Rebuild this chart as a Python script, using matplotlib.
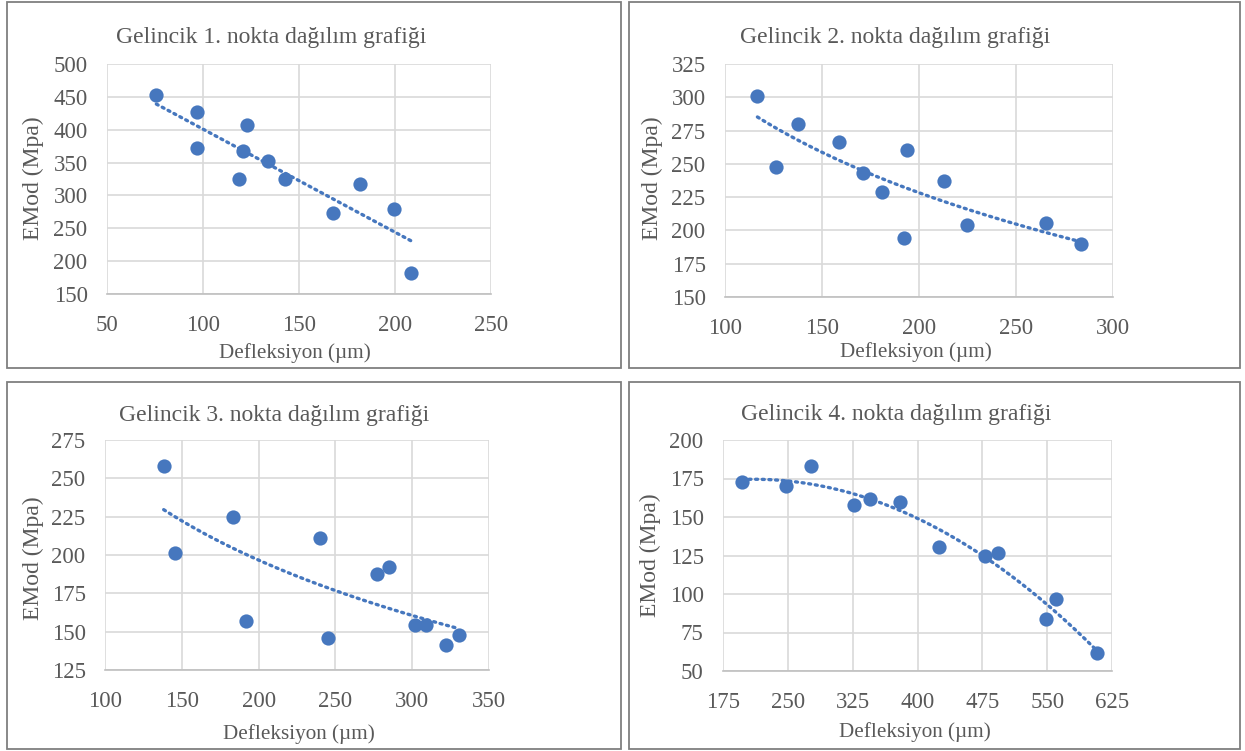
import numpy as np
import matplotlib
matplotlib.use('Agg')
from matplotlib import pyplot as plt
from matplotlib.patches import Rectangle

plt.rcParams['font.family'] = ['Liberation Serif', 'DejaVu Serif']

# data
titles = ['Gelincik 1. nokta dağılım grafiği', 'Gelincik 2. nokta dağılım grafiği',
          'Gelincik 3. nokta dağılım grafiği', 'Gelincik 4. nokta dağılım grafiği']

x1 = [75.7, 96.8, 96.8, 122.9, 121.0, 118.5, 133.7, 142.7, 167.7, 181.8, 199.6, 208.3]
y1 = [452.8, 426.3, 372.5, 406.5, 366.9, 324.7, 352.7, 324.7, 274.0, 318.1, 280.0, 181.5]

x2 = [116.7, 126.4, 137.4, 158.9, 170.9, 180.7, 193.7, 192.4, 213.0, 224.6, 265.5, 283.3]
y2 = [300.9, 247.9, 279.8, 266.7, 243.1, 228.6, 260.2, 194.4, 237.4, 204.0, 205.8, 189.5]

x3 = [138.2, 145.4, 183.4, 191.7, 240.1, 245.5, 276.8, 284.6, 301.6, 308.7, 322.0, 330.7]
y3 = [257.8, 201.4, 224.7, 156.8, 211.2, 145.7, 187.9, 192.3, 154.2, 154.2, 141.5, 147.8]

x4 = [197.3, 247.8, 276.3, 326.8, 345.6, 380.3, 425.4, 477.8, 493.6, 548.3, 559.8, 608.0]
y4 = [172.9, 169.9, 182.9, 157.5, 161.8, 159.7, 130.8, 124.6, 126.7, 83.8, 96.6, 61.7]

xticks = [[50, 100, 150, 200, 250], [100, 150, 200, 250, 300],
          [100, 150, 200, 250, 300, 350], [175, 250, 325, 400, 475, 550, 625]]
yticks = [[150, 200, 250, 300, 350, 400, 450, 500],
          [150, 175, 200, 225, 250, 275, 300, 325],
          [125, 150, 175, 200, 225, 250, 275],
          [50, 75, 100, 125, 150, 175, 200]]
trend = ['linear', 'log', 'log', 'poly2']

W, H = 1245, 751
fig = plt.figure(figsize=(W / 100, H / 100), dpi=100)

blue = '#4677BE'
grey = '#595959'

# panel frames (pixels: x0, y0, x1, y1)
frames = [(7, 2, 621, 368), (629, 2, 1240, 368), (7, 382, 621, 749), (629, 382, 1240, 749)]
plots = [(107, 64, 491, 294), (725, 64, 1113, 297), (105, 440, 489, 670), (723, 440, 1112, 671)]
title_pos = [(271, 43.5), (895, 43.5), (274, 421), (896, 420)]
xlab_pos = [(295, 358), (916, 357), (299, 739), (915, 737)]
ylab_pos = [(33, 178), (652, 178), (33, 558), (650, 555)]

for f in frames:
    fig.patches.append(Rectangle((f[0] / W, 1 - f[3] / H), (f[2] - f[0]) / W, (f[3] - f[1]) / H,
                                 transform=fig.transFigure, fill=False, edgecolor='#7F7F7F', linewidth=1.3))

datas = [(x1, y1), (x2, y2), (x3, y3), (x4, y4)]
for i in range(4):
    p = plots[i]
    ax = fig.add_axes([p[0] / W, 1 - p[3] / H, (p[2] - p[0]) / W, (p[3] - p[1]) / H])
    xs = np.array(datas[i][0])
    ys = np.array(datas[i][1])
    ax.scatter(xs, ys, s=105, color=blue, zorder=3, linewidths=0)
    xf = np.linspace(xs.min(), xs.max(), 200)
    if trend[i] == 'linear':
        c = np.polyfit(xs, ys, 1)
        yf = np.polyval(c, xf)
    elif trend[i] == 'log':
        c = np.polyfit(np.log(xs), ys, 1)
        yf = c[1] + c[0] * np.log(xf)
    else:
        c = np.polyfit(xs, ys, 2)
        yf = np.polyval(c, xf)
    ax.plot(xf, yf, color=blue, linewidth=2.4, linestyle=(0, (0.6, 1.4)), dash_capstyle='round', zorder=2)
    ax.set_xlim(xticks[i][0], xticks[i][-1])
    ax.set_ylim(yticks[i][0], yticks[i][-1])
    ax.set_xticks(xticks[i])
    ax.set_yticks(yticks[i])
    ax.grid(True, color='#D9D9D9', linewidth=1.2)
    ax.set_axisbelow(True)
    for s in ['top', 'right', 'left']:
        ax.spines[s].set_visible(False)
    ax.spines['bottom'].set_color('#BFBFBF')
    ax.spines['bottom'].set_linewidth(1.2)
    ax.tick_params(length=0, labelsize=16.5, labelcolor=grey)
    ax.tick_params(axis='x', pad=15)
    ax.tick_params(axis='y', pad=14)
    fig.text(title_pos[i][0] / W, 1 - title_pos[i][1] / H, titles[i], ha='center', va='baseline',
             fontsize=17, color=grey)
    fig.text(xlab_pos[i][0] / W, 1 - xlab_pos[i][1] / H, 'Defleksiyon (µm)', ha='center', va='baseline',
             fontsize=15.2, color=grey)
    fig.text(ylab_pos[i][0] / W, 1 - ylab_pos[i][1] / H, 'EMod (Mpa)', ha='center', va='center',
             fontsize=17, color=grey, rotation=90)

fig.savefig('out.png', dpi=100)
